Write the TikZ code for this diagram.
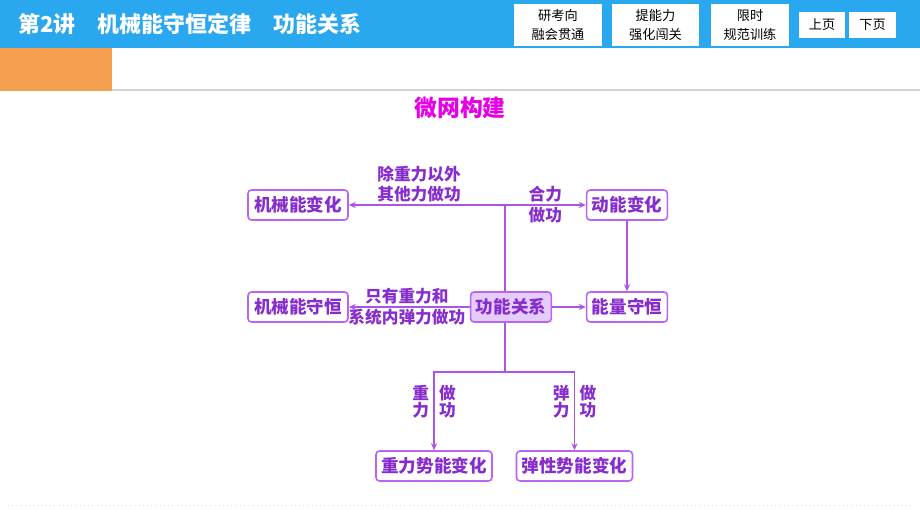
\documentclass[tikz,border=0pt]{standalone}
\usepackage{fontspec}
\setmainfont{Noto Sans CJK SC}
\usepackage{tikz}
\usetikzlibrary{arrows.meta, positioning}

\definecolor{barblue}{RGB}{41,168,240}
\definecolor{barorange}{RGB}{245,160,80}
\definecolor{boxline}{RGB}{185,100,245}
\definecolor{boxtext}{RGB}{135,45,205}
\definecolor{boxfill}{RGB}{228,205,250}
\definecolor{wirecol}{RGB}{170,85,230}
\definecolor{headcol}{RGB}{230,0,230}

\begin{document}
\begin{tikzpicture}[
    x=0.02cm, y=-0.02cm,
    every node/.style={font=\fontsize{10}{12}\selectfont\bfseries, text=boxtext},
    topic/.style={draw=boxline, line width=0.9pt, rounded corners=2pt, fill=white, minimum height=0.6cm, inner xsep=3pt},
    tag/.style={inner sep=1pt, font=\fontsize{9.5}{11.5}\selectfont\bfseries},
    vtag/.style={inner sep=2.5pt, align=center, font=\fontsize{9.5}{9.8}\selectfont\bfseries},
    wire/.style={draw=wirecol, line width=0.7pt},
    every edge/.style={wire, -{Stealth[length=4pt,width=3.5pt]}},
    btn/.style={fill=white, text=black, font=\fontsize{7.5}{10.5}\selectfont, align=center, inner sep=0pt}
]
\useasboundingbox (0,0) rectangle (920,518);

% header bar
\fill[barblue] (0,0) rectangle (920,48);
\fill[barorange] (0,48) rectangle (112,91);
\draw[gray!35, line width=1pt] (112,90) -- (920,90);
\node[anchor=west, text=white, font=\fontsize{12.5}{14}\selectfont\bfseries] (title) at (12,24) {第2讲　机械能守恒定律　功能关系};

\node[btn, minimum width=1.76cm, minimum height=0.84cm] (study) at (558,25) {研考向\\融会贯通};
\node[btn, minimum width=1.74cm, minimum height=0.84cm] (skill) at (655.5,25) {提能力\\强化闯关};
\node[btn, minimum width=1.56cm, minimum height=0.84cm] (drill) at (750,25) {限时\\规范训练};
\node[btn, minimum width=0.92cm, minimum height=0.52cm] (prev) at (822,25) {上页};
\node[btn, minimum width=0.94cm, minimum height=0.52cm] (next) at (872.5,25) {下页};

\node[text=headcol, font=\fontsize{13}{15}\selectfont\bfseries] (heading) at (460,108) {微网构建};

% trunk
\coordinate (hub) at (505,205);
\coordinate (fork) at (505,372);
\draw[wire] (hub) -- (fork);

\node[topic, minimum width=2cm] (mchange) at (298,205) {机械能变化};
\node[topic, minimum width=1.54cm] (kchange) at (627,205) {动能变化};
\node[topic, minimum width=2cm] (mkeep) at (298,307) {机械能守恒};
\node[topic, fill=boxfill, minimum width=1.56cm] (work) at (511,307) {功能关系};
\node[topic, minimum width=1.54cm] (ekeep) at (627,307) {能量守恒};
\node[topic, minimum width=2.24cm] (gpot) at (434,466) {重力势能变化};
\node[topic, minimum width=2.22cm] (epot) at (574.5,466) {弹性势能变化};

\draw (hub) edge node[tag, above, pos=0.55, align=center] {除重力以外\\其他力做功} (mchange);
\draw (hub) edge node[tag, above] {合力} node[tag, below] {做功} (kchange);
\draw (kchange) edge (ekeep);
\draw (work) edge node[tag, above, pos=0.52] {只有重力和} node[tag, below, pos=0.52] {系统内弹力做功} (mkeep);
\draw (work) edge (ekeep);

\draw[wire, -{Stealth[length=4pt,width=3.5pt]}] (fork) -| node[vtag, pos=0.69, left] {重\\力} node[vtag, pos=0.69, right] {做\\功} (gpot);
\draw[wire, -{Stealth[length=4pt,width=3.5pt]}] (fork) -| node[vtag, pos=0.69, left] {弹\\力} node[vtag, pos=0.69, right] {做\\功} (epot);

\draw[gray!25, dotted] (8,505) -- (912,505);
\end{tikzpicture}
\end{document}
